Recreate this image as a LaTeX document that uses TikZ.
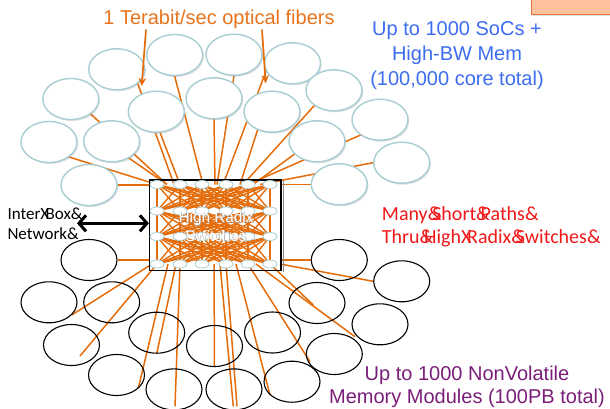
\documentclass[tikz,border=0pt]{standalone}
\usepackage{fontspec}
\setmainfont{Liberation Sans}
\newfontfamily\calib{Carlito}
\usetikzlibrary{shapes.geometric,arrows.meta,shadows}

\definecolor{fiberorange}{HTML}{E46C0A}
\definecolor{titleorange}{HTML}{E8731C}
\definecolor{socedge}{HTML}{A8CDD2}
\definecolor{socblue}{HTML}{3C6CF0}
\definecolor{nvmpurple}{HTML}{7B1E7A}
\definecolor{pathred}{HTML}{F01818}
\definecolor{tagfill}{HTML}{FFC29E}
\definecolor{tagedge}{HTML}{E3763A}

% broken glyphs standing for a space (&) and for a hyphen (X)
\newcommand\ampgap{\makebox[0.226em][l]{\&}}
\newcommand\xgap{\makebox[0.306em][l]{X}}

\pgfdeclarelayer{back}
\pgfsetlayers{back,main}

\tikzset{
  fiber/.style={draw=fiberorange, line width=1.5pt},
  mesh/.style={draw=fiberorange, line width=1.4pt},
  soc/.style={ellipse, draw=socedge, fill=white, line width=1.4pt,
    minimum width=56pt, minimum height=41pt, inner sep=0pt,
    drop shadow={shadow xshift=1.2pt, shadow yshift=-1.5pt, opacity=0.25, fill=black!50}},
  nvm/.style={ellipse, draw=black, line width=1.1pt,
    minimum width=56pt, minimum height=41pt, inner sep=0pt},
  port/.style={ellipse, draw=socedge, fill=white, line width=0.8pt,
    minimum width=14pt, minimum height=8pt, inner sep=0pt},
  switchbox/.style={draw=black, line width=1.2pt, minimum width=131.5pt,
    minimum height=90.7pt, inner sep=0pt},
  fibarrow/.style={draw=fiberorange, line width=1.7pt, -{Stealth[length=8pt,width=7.5pt]}},
  dblarrow/.style={draw=black, line width=3pt,
    {Straight Barb[length=7pt,width=16pt]}-{Straight Barb[length=7pt,width=16pt]}},
  tagbox/.style={draw=tagedge, fill=tagfill, line width=1pt,
    drop shadow={shadow xshift=1pt, shadow yshift=-1.5pt, opacity=0.3, fill=black!40}},
}

\begin{document}
\begin{tikzpicture}[x=1pt,y=-1pt]
\useasboundingbox (0,0) rectangle (610,408);

% label box in the upper right corner
\node[tagbox, anchor=south west, minimum width=90pt, minimum height=32pt] (tag) at (531,14.5) {};

% compute nodes (SoC + memory)
\foreach \n/\x/\y in {1/116.7/69.3, 2/174.7/55, 3/234/54.7, 4/292.5/63.3,
    5/70.8/99, 6/156.3/111.7, 7/214/98.3, 8/272/111.7,
    9/49/142, 10/111.7/141.3, 11/89/185, 12/317/141.3,
    13/334/90.3, 14/380/119.7, 15/401.7/162.7, 16/339.3/184.3}
  \node[soc] (u\n) at (\x,\y) {};

% non-volatile memory modules
\foreach \n/\x/\y in {1/116.5/375, 2/174/389.4, 3/234/389.4, 4/292/381.7,
    5/71.5/345, 6/156.7/332.7, 7/214.5/346, 8/272.5/332.5,
    9/49/302.3, 10/111.7/302.3, 11/89/260, 12/317/303,
    13/334.3/354, 14/380/324.3, 15/401.7/281.3, 16/339.3/260}
  \node[nvm] (d\n) at (\x,\y) {};

% switch enclosure and its ports
\node[switchbox] (sw) at (215.25,225.35) {};
\draw[black!45, line width=1.2pt] ([xshift=1.6pt,yshift=-2pt]sw.north east) -- ([xshift=1.6pt,yshift=-1pt]sw.south east);
\foreach \r/\y in {1/184.5, 2/211, 3/236.5, 4/264}
  \foreach \c/\x in {1/157, 2/180, 3/202, 4/226, 5/248, 6/270}
    \node[port] (p\r\c) at (\x,\y) {};

\begin{pgfonlayer}{back}
  % all-to-all links between neighbouring switch stages
  \foreach \r [evaluate=\r as \s using int(\r+1)] in {1,2,3}
    \foreach \i in {1,...,6}
      \foreach \j in {1,...,6}
        \draw[mesh] (p\r\i.center) -- (p\s\j.center);

  % fibers up to the compute nodes
  \draw[fiber, shorten <=-6pt] ([shift={(21.6,15.7)}]u1.center) -- ([xshift=-6pt]p12.center);
  \draw[fiber, shorten <=-6pt] (u2.south) -- ([xshift=1pt]p13.center);
  \draw[fiber, shorten <=-6pt] (u3.south) -- ([xshift=-9pt]p14.center);
  \draw[fiber, shorten <=-6pt] ([shift={(-26,6.7)}]u4.center) -- ([xshift=-3pt]p14.center);
  \draw[fiber, shorten <=-6pt] ([shift={(20.9,16)}]u5.center) -- ([xshift=10pt]p11.center);
  \draw[fiber, shorten <=-6pt] ([shift={(4,21.5)}]u6.center) -- (p12.center);
  \draw[fiber, shorten <=-6pt] (u7.south) -- ([xshift=-11pt]p14.center);
  \draw[fiber, shorten <=-6pt] ([shift={(-15.3,21)}]u8.center) -- ([xshift=-8pt]p15.center);
  \draw[fiber, shorten <=-6pt] ([shift={(21,15.3)}]u9.center) -- (p11.center);
  \draw[fiber, shorten <=-6pt] ([shift={(20,18.7)}]u10.center) -- ([xshift=10pt]p11.center);
  \draw[fiber] (u11.east) -- (u11 -| sw.west);
  \draw[fiber, shorten <=-6pt] ([shift={(-23.7,13.7)}]u12.center) -- ([xshift=5pt]p15.center);
  \draw[fiber, shorten <=-6pt] ([shift={(-20.7,16.4)}]u13.center) -- ([xshift=-5pt]p15.center);
  \draw[fiber, shorten <=-6pt] ([shift={(-21.7,16.3)}]u14.center) -- (p15.center);
  \draw[fiber, shorten <=-6pt] (u15.west) -- ([xshift=-10pt]p16.center);
  \draw[fiber] (u16.west) -- (u16 -| sw.east);

  % fibers down to the memory modules
  \draw[fiber] (d11.east) -- (d11 -| sw.west);
  \draw[fiber] (d16.west) -- (d16 -| sw.east);
  \draw[fiber] ([xshift=-5pt]p41.center) -- ([shift={(22.7,12.7)}]d9.center);
  \draw[fiber] (p41.center) -- ([shift={(8.5,11)}]d5.center);
  \draw[fiber] ([xshift=11pt]p41.center) -- ([shift={(21.8,13.3)}]d1.center);
  \draw[fiber] ([xshift=-4pt]p42.center) -- (d6.south);
  \draw[fiber] (p42.center) -- ([shift={(1,17)}]d2.center);
  \draw[fiber] ([xshift=12pt]p43.center) -- (d7.south);
  \draw[fiber] ([xshift=-6pt]p44.center) -- ([shift={(-0.7,17)}]d3.center);
  \draw[fiber] (p44.center) -- ([shift={(3,17)}]d3.center);
  \draw[fiber] ([xshift=10pt]p44.center) -- ([shift={(-22,13.3)}]d4.center);
  \draw[fiber] (p45.center) -- ([shift={(-24.3,7.7)}]d13.center);
  \draw[fiber] ([xshift=8pt]p45.center) -- ([shift={(-25,12.4)}]d14.center);
  \draw[fiber] (p46.center) -- ([shift={(-3.7,2)}]d12.center);
  \draw[fiber] ([xshift=10pt]p46.center) -- (d15.west);
\end{pgfonlayer}

% switch label
\node[text=black!35, align=center, font=\fontsize{15.3}{18.5}\selectfont]
  at ([shift={(0.6,0.6)}]216,226.3) {High Radix\\Switches};
\node[text=white, align=center, font=\fontsize{15.3}{18.5}\selectfont]
  (swlabel) at (216,226.3) {High Radix\\Switches};

% fiber caption with its two pointers
\node[text=titleorange, inner sep=1pt, font=\fontsize{20}{24}\selectfont]
  (fib) at (219,19) {1 Terabit/sec optical fibers};
\coordinate (tipA) at (141.7,86);
\coordinate (tipB) at (265.7,83.3);
\draw[fibarrow] ([xshift=-73pt]fib.south) -- (tipA);
\draw[fibarrow] ([xshift=43pt]fib.south) -- (tipB);

% compute node caption
\node[text=socblue, align=center, font=\fontsize{20}{25}\selectfont]
  (soccap) at (457,55.5) {Up to 1000 SoCs +\\High-BW Mem\\(100,000 core total)};

% inter-box network link
\node[anchor=west, align=left, inner sep=0pt, font=\calib\fontsize{17}{20}\selectfont]
  (ibnlabel) at (7.3,223.3) {Inter\xgap Box\&\\Network\&};
\coordinate (ibn) at (77,223.3);
\draw[dblarrow] (ibn) -- (ibn -| sw.west);

% path note
\node[anchor=west, align=left, inner sep=0pt, text=pathred, font=\calib\fontsize{20}{23.3}\selectfont]
  (paths) at (381.7,226.7) {Many\ampgap Short\ampgap Paths\&\\Thru\ampgap High\xgap Radix\ampgap Switches\&};

% memory caption
\node[text=nvmpurple, align=center, font=\fontsize{20}{23.3}\selectfont]
  (nvmcap) at (467,386.7) {Up to 1000 NonVolatile\\Memory Modules (100PB total)};
\end{tikzpicture}
\end{document}
